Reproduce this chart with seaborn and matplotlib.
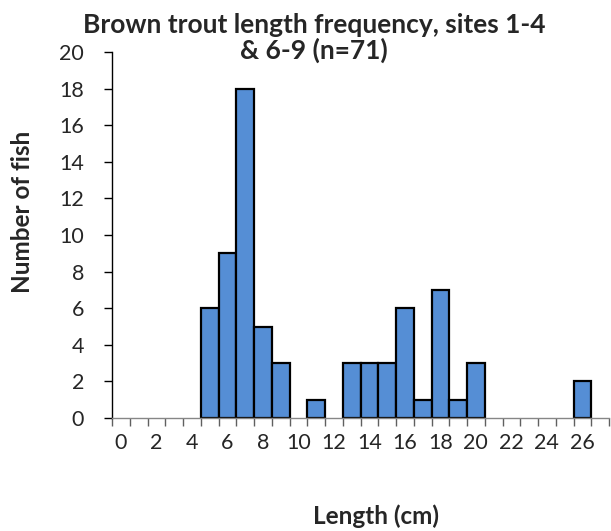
import numpy as np
import pandas as pd
import matplotlib
matplotlib.use('Agg')
import matplotlib.pyplot as plt
import seaborn as sns

# length classes (cm) and number of fish in each
lengths = list(range(28))
counts = [0, 0, 0, 0, 0, 6, 9, 18, 5, 3, 0, 1, 0, 3, 3, 3, 6, 1, 7, 1, 3,
          0, 0, 0, 0, 0, 2, 0]
xlabels = list(range(0, 27, 2))
yticks = list(range(0, 21, 2))

df = pd.DataFrame({'length': lengths, 'fish': counts})

sns.set_style('white')
plt.rcParams['font.family'] = ['Lato', 'DejaVu Sans']

fig = plt.figure(figsize=(6.11, 5.31), dpi=100)
ax = fig.add_axes([112 / 611, 1 - 418 / 531, 497 / 611, 366 / 531])

sns.barplot(data=df, x='length', y='fish', order=lengths, color='#558ED5',
            saturation=1, width=1.0, edgecolor='black', linewidth=1.6, ax=ax)

# hide the empty classes so no edge is drawn on the axis
for p in ax.patches:
    if p.get_height() == 0:
        p.set_visible(False)

ax.set_xlim(-0.5, len(lengths) - 0.5)
ax.set_ylim(0, 20)
ax.set_yticks(yticks)
ax.set_yticklabels([str(v) for v in yticks], fontsize=15.5)

# tick marks between classes, labels on every other class
ax.set_xticks(np.arange(-0.5, len(lengths), 1.0))
ax.set_xticklabels([])
ax.set_xticks(xlabels, minor=True)
ax.set_xticklabels([str(v) for v in xlabels], minor=True, fontsize=15.5)
ax.tick_params(axis='x', which='major', direction='out', length=6, width=1,
               color='#606060', bottom=True)
ax.tick_params(axis='x', which='minor', length=0, pad=11)
ax.tick_params(axis='y', direction='out', length=6, width=1, color='black',
               left=True, pad=14)

ax.set_xlabel('')
ax.set_ylabel('')
for s in ['top', 'right']:
    ax.spines[s].set_visible(False)
ax.spines['left'].set_color('black')
ax.spines['left'].set_linewidth(1)
ax.spines['bottom'].set_color('#868686')
ax.spines['bottom'].set_linewidth(1)

fig.text(314 / 611, 1 - 38 / 531,
         'Brown trout length frequency, sites 1-4\n& 6-9 (n=71)',
         ha='center', va='center', fontsize=19, fontweight='bold',
         linespacing=1.05)
fig.text(376 / 611, 1 - 516 / 531, 'Length (cm)', ha='center', va='center',
         fontsize=17.5, fontweight='bold')
fig.text(23 / 611, 1 - 212 / 531, 'Number of fish', ha='center', va='center',
         rotation=90, fontsize=17.5, fontweight='bold')

fig.savefig('out.png', dpi=100)
